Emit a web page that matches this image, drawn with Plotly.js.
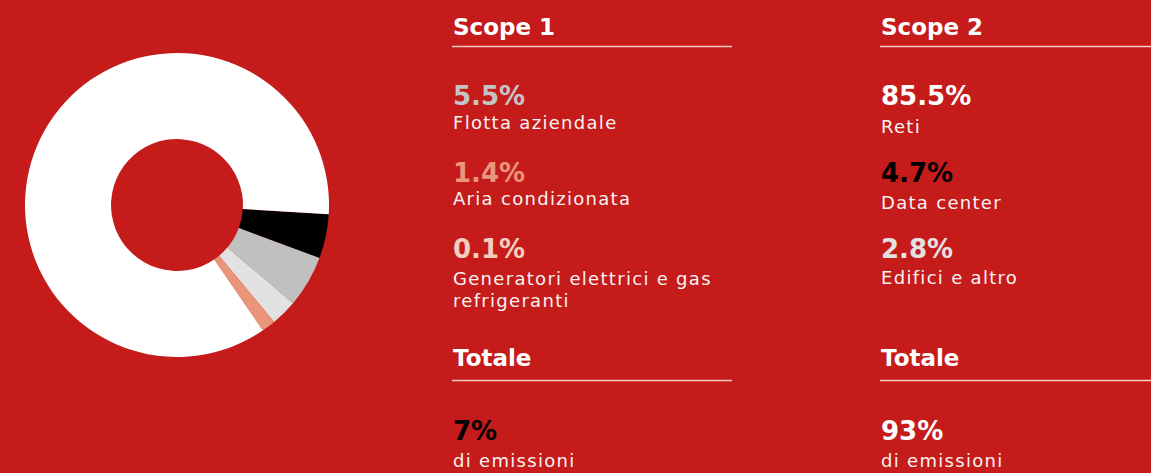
<!DOCTYPE html>
<html>
<head>
<meta charset="utf-8">
<script src="https://cdn.plot.ly/plotly-3.0.1.min.js"></script>
<style>
  html, body { margin: 0; padding: 0; background: #c51b1a; }
  #chart { width: 1151px; height: 473px; }
</style>
</head>
<body>
<div id="chart"></div>
<script>
// ---- data ----
const sliceLabels = ['Data center', 'Flotta aziendale', 'Edifici e altro', 'Aria condizionata', 'Generatori elettrici e gas refrigeranti', 'Reti'];
const sliceValues = [4.7, 5.5, 2.8, 1.4, 0.1, 85.5];
const sliceColors = ['#000000', '#c0c0c0', '#e2e2e2', '#e8957a', '#f3c6b2', '#ffffff'];

const scope1Title = 'Scope 1';
const scope1Values = [5.5, 1.4, 0.1];
const scope1Labels = ['Flotta aziendale', 'Aria condizionata', 'Generatori elettrici e gas\nrefrigeranti'];
const scope1Colors = ['#c4c4c4', '#e8967c', '#f3cdbd'];

const scope2Title = 'Scope 2';
const scope2Values = [85.5, 4.7, 2.8];
const scope2Labels = ['Reti', 'Data center', 'Edifici e altro'];
const scope2Colors = ['#ffffff', '#000000', '#e2e2e2'];

const totalTitle = 'Totale';
const totalValues = [7, 93];
const totalLabel = 'di emissioni';
const totalColors = ['#000000', '#ffffff'];

// ---- layout helpers ----
const W = 1151, H = 473;
const BG = '#c51b1a';
const TEXT = '#f8f2f2';
const FAMILY = 'DejaVu Sans';

function ann(text, xPx, baselinePx, size, color, bold, spacing) {
  const t = spacing ? "<span style='letter-spacing:" + spacing + "px'>" + text + "</span>" : text;
  return {
    text: t, xref: 'paper', yref: 'paper',
    x: xPx / W, y: 1 - (baselinePx - 0.346 * size) / H,
    xanchor: 'left', yanchor: 'middle', showarrow: false, borderpad: 0,
    font: { family: FAMILY, size: size, color: color, weight: bold ? 700 : 400 }
  };
}
function rule(x0, x1, yPx) {
  return { type: 'line', xref: 'paper', yref: 'paper', x0: x0 / W, x1: x1 / W, y0: 1 - yPx / H, y1: 1 - yPx / H,
           line: { color: 'rgba(255,236,236,0.85)', width: 1.3 } };
}
function fmtPct(v) { return (Number.isInteger(v) && v >= 7 && v !== 85.5 ? v : v.toFixed(Number.isInteger(v) ? 0 : 1)) + '%'; }

const cols = [
  { x: 452, x1: 732, title: scope1Title, values: scope1Values, labels: scope1Labels, colors: scope1Colors, labelBase: [129, 205, 285] },
  { x: 880, x1: 1151, title: scope2Title, values: scope2Values, labels: scope2Labels, colors: scope2Colors, labelBase: [133, 209, 284] }
];
const pctBase = [105, 182, 258];
const LABEL_SIZE = 18, LABEL_SP = 1.3, PCT_SIZE = 26, HEAD_SIZE = 23;

const annotations = [];
const shapes = [];
cols.forEach((c, ci) => {
  annotations.push(ann(c.title, c.x, 35, HEAD_SIZE, '#ffffff', true));
  shapes.push(rule(c.x, c.x1, 46.5));
  c.values.forEach((v, i) => {
    annotations.push(ann(v.toFixed(1) + '%', c.x, pctBase[i], PCT_SIZE, c.colors[i], true));
    c.labels[i].split('\n').forEach((line, li) => {
      annotations.push(ann(line, c.x, c.labelBase[i] + li * 22, LABEL_SIZE, TEXT, false, LABEL_SP));
    });
  });
  annotations.push(ann(totalTitle, c.x, 366, HEAD_SIZE, '#ffffff', true));
  shapes.push(rule(c.x, c.x1, 380.5));
  annotations.push(ann(totalValues[ci] + '%', c.x, 440, PCT_SIZE, totalColors[ci], true));
  annotations.push(ann(totalLabel, c.x, 467, LABEL_SIZE, TEXT, false, LABEL_SP));
});

// donut geometry: center (177,205), radius 152
const cx = 177, cy = 205, R = 152;
const trace = {
  type: 'pie',
  labels: sliceLabels,
  values: sliceValues,
  marker: { colors: sliceColors, line: { width: 0 } },
  hole: 0.434,
  sort: false,
  direction: 'clockwise',
  rotation: 93.5,
  textinfo: 'none',
  hoverinfo: 'label+percent',
  showlegend: false,
  domain: { x: [(cx - R) / W, (cx + R) / W], y: [1 - (cy + R) / H, 1 - (cy - R) / H] }
};

const layout = {
  width: W, height: H,
  margin: { l: 0, r: 0, t: 0, b: 0 },
  paper_bgcolor: BG, plot_bgcolor: BG,
  showlegend: false,
  annotations: annotations,
  shapes: shapes
};

Plotly.newPlot('chart', [trace], layout, { displayModeBar: false, staticPlot: true });
</script>
</body>
</html>
